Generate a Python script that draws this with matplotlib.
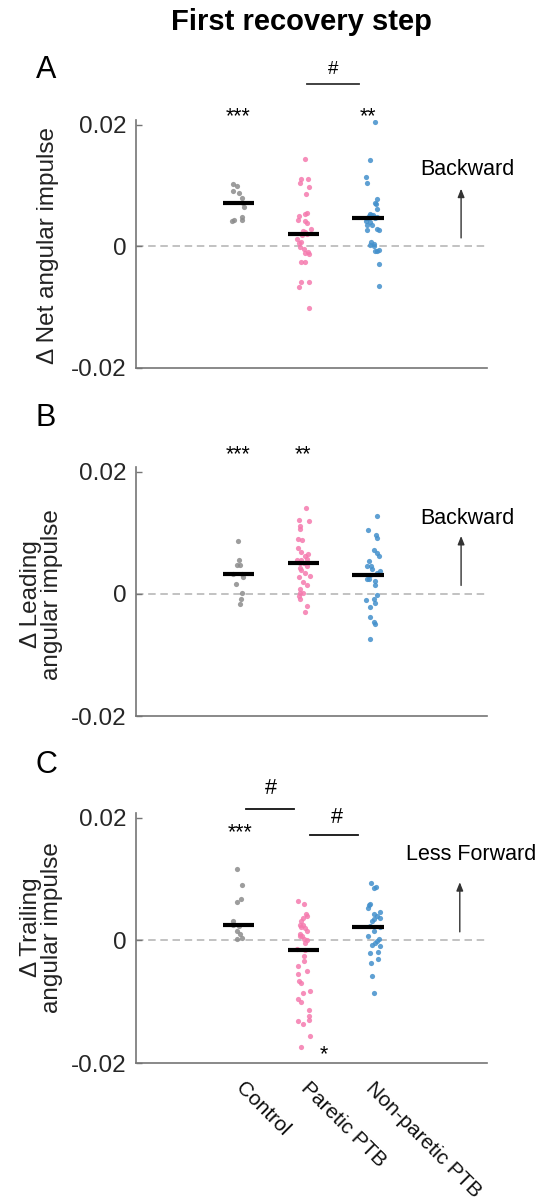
import matplotlib
matplotlib.use("Agg")
import matplotlib.pyplot as plt
import matplotlib.transforms as mtransforms
import numpy as np

plt.rcParams['font.family'] = ['Liberation Sans', 'DejaVu Sans']

# groups and colours
groups = ['Control', 'Paretic PTB', 'Non-paretic PTB']
colors = ['#8c8c8c', '#f57aae', '#4390cc']

# --- A: net angular impulse (value, horizontal jitter) ---
net_ctrl = [0.0103, 0.0099, 0.0091, 0.0088, 0.0080, 0.0071, 0.0065, 0.0048, 0.0044, 0.0044, 0.0042]
net_ctrl_dx = [-0.08, -0.03, -0.09, 0.01, 0.06, 0.07, 0.08, 0.05, 0.06, -0.07, -0.10]
net_par = [0.0144, 0.0111, 0.0111, 0.0104, 0.0097, 0.0086, 0.0055, 0.0053, 0.0050, 0.0043,
           0.0042, 0.0038, 0.0029, 0.0026, 0.0023, 0.0019, 0.0020, 0.0013, 0.0007, 0.0005,
           -0.0001, -0.0004, -0.0010, -0.0011, -0.0012, -0.0025, -0.0026, -0.0058, -0.0059,
           -0.0067, -0.0101]
net_par_dx = [0.03, -0.03, 0.07, -0.05, 0.08, 0.04, 0.05, 0.03, -0.07, -0.08,
              0.03, 0.05, 0.11, 0.00, 0.03, -0.02, 0.05, -0.10, -0.03, -0.07,
              -0.05, 0.01, 0.07, 0.02, 0.09, 0.02, -0.04, 0.08, -0.03,
              -0.07, 0.09]
net_np = [0.0204, 0.0142, 0.0115, 0.0104, 0.0078, 0.0072, 0.0070, 0.0061, 0.0054, 0.0052,
          0.0050, 0.0048, 0.0049, 0.0051, 0.0047, 0.0047, 0.0046, 0.0042, 0.0040, 0.0036,
          0.0036, 0.0029, 0.0027, 0.0027, 0.0008, 0.0004, 0.0003, 0.0000, -0.0006, -0.0007,
          -0.0008, -0.0029, -0.0065]
net_np_dx = [0.10, 0.03, -0.03, -0.02, 0.14, 0.10, 0.12, 0.14, 0.03, 0.07,
             0.01, 0.08, 0.13, 0.04, -0.04, 0.11, 0.00, -0.03, 0.03, 0.06,
             -0.02, 0.14, 0.16, -0.02, 0.04, 0.08, 0.02, 0.08, 0.16, 0.13,
             0.10, 0.16, 0.16]

# --- B: leading limb angular impulse ---
lead_ctrl = [0.0087, 0.0055, 0.0048, 0.0048, 0.0033, 0.0033, 0.0028, 0.0016, 0.0002, -0.0009, -0.0016]
lead_ctrl_dx = [-0.01, 0.01, -0.03, 0.03, -0.08, 0.05, 0.07, -0.04, 0.05, 0.04, 0.02]
lead_par = [0.0141, 0.0122, 0.0119, 0.0112, 0.0106, 0.0090, 0.0089, 0.0075, 0.0069, 0.0066,
            0.0062, 0.0058, 0.0056, 0.0056, 0.0050, 0.0050, 0.0046, 0.0043, 0.0040, 0.0034,
            0.0030, 0.0028, 0.0020, 0.0014, 0.0008, 0.0002, 0.0001, -0.0004, -0.0008, -0.0020,
            -0.0029]
lead_par_dx = [0.04, -0.07, 0.08, -0.05, -0.05, -0.09, -0.02, -0.09, -0.04, 0.07,
               0.03, 0.05, -0.10, -0.03, 0.01, -0.05, 0.05, -0.06, -0.03, 0.03,
               0.10, -0.07, 0.00, 0.06, -0.05, -0.06, -0.01, -0.07, -0.05, 0.06,
               0.02]
lead_np = [0.0128, 0.0104, 0.0097, 0.0092, 0.0072, 0.0067, 0.0062, 0.0054, 0.0046, 0.0046,
           0.0041, 0.0038, 0.0034, 0.0031, 0.0025, 0.0024, 0.0022, 0.0015, -0.0001, -0.0008,
           -0.0010, -0.0014, -0.0022, -0.0037, -0.0046, -0.0049, -0.0073]
lead_np_dx = [0.13, -0.01, 0.12, 0.13, 0.08, 0.13, 0.16, 0.01, 0.04, -0.02,
              0.06, 0.18, 0.13, 0.03, -0.02, 0.01, 0.10, 0.11, 0.13, 0.08,
              -0.03, 0.10, 0.03, 0.02, 0.09, 0.10, 0.03]

# --- C: trailing limb angular impulse ---
trail_ctrl = [0.0117, 0.0091, 0.0067, 0.0062, 0.0031, 0.0025, 0.0024, 0.0016, 0.0010, 0.0004, 0.0003]
trail_ctrl_dx = [-0.02, 0.06, 0.04, -0.03, -0.08, -0.08, 0.01, -0.02, 0.02, 0.06, -0.03]
trail_par = [0.0064, 0.0059, 0.0043, 0.0040, 0.0037, 0.0032, 0.0025, 0.0025, 0.0022, 0.0021,
             0.0015, 0.0010, 0.0007, 0.0007, 0.0002, 0.0001, -0.0004, -0.0014, -0.0016, -0.0026,
             -0.0033, -0.0041, -0.0050, -0.0055, -0.0067, -0.0069, -0.0083, -0.0085, -0.0096,
             -0.0100, -0.0114, -0.0123, -0.0130, -0.0132, -0.0137, -0.0156, -0.0174]
trail_par_dx = [-0.08, 0.01, 0.04, 0.06, -0.01, -0.03, -0.05, 0.00, -0.04, 0.02,
                0.05, -0.05, -0.06, -0.02, 0.01, 0.06, 0.03, -0.10, 0.02, 0.01,
                0.01, -0.08, 0.06, -0.09, -0.07, -0.04, 0.10, 0.00, -0.08,
                -0.03, 0.09, 0.08, 0.08, -0.09, -0.01, 0.10, -0.03]
trail_np = [0.0094, 0.0087, 0.0085, 0.0059, 0.0057, 0.0053, 0.0046, 0.0043, 0.0040, 0.0037,
            0.0035, 0.0032, 0.0024, 0.0022, 0.0015, 0.0007, 0.0003, -0.0001, -0.0004, -0.0007,
            -0.0009, -0.0019, -0.0020, -0.0031, -0.0037, -0.0058, -0.0086]
trail_np_dx = [0.04, 0.12, 0.08, 0.03, 0.01, 0.00, 0.18, 0.08, 0.13, 0.18,
               0.09, 0.06, 0.03, 0.18, 0.08, 0.00, 0.17, 0.13, 0.11, 0.06,
               0.18, 0.15, 0.03, 0.15, 0.04, 0.05, 0.08]

panels = [
    ('A', '\u0394 Net angular impulse',
     [(net_ctrl, net_ctrl_dx), (net_par, net_par_dx), (net_np, net_np_dx)]),
    ('B', '\u0394 Leading\nangular impulse',
     [(lead_ctrl, lead_ctrl_dx), (lead_par, lead_par_dx), (lead_np, lead_np_dx)]),
    ('C', '\u0394 Trailing\nangular impulse',
     [(trail_ctrl, trail_ctrl_dx), (trail_par, trail_par_dx), (trail_np, trail_np_dx)]),
]

# axes rectangles in figure fractions (left, bottom, width, height)
rects = [(0.251, 0.6944, 0.6476, 0.2059),
         (0.251, 0.4053, 0.6476, 0.2068),
         (0.251, 0.1171, 0.6476, 0.2077)]
ylab_pos = [(0.089, 0.7960), (0.077, 0.5065), (0.077, 0.2300)]
letter_y = [0.9419, 0.6530, 0.3650]

FS = 15.5      # annotation text
FS_AX = 17.5   # tick labels and axis labels
fig = plt.figure(figsize=(5.42, 12.04), dpi=100)
fig.text(0.556, 0.9815, 'First recovery step', ha='center', va='center',
         fontsize=21, fontweight='bold')

axes = []
for k, (letter, ylab, data) in enumerate(panels):
    ax = fig.add_axes(rects[k])
    axes.append(ax)
    ax.set_xlim(-0.58, 4.83)
    ax.set_ylim(-0.02, 0.0208)
    ax.axhline(0, color='#b8b8b8', lw=1.2, ls=(0, (4.5, 2.8)), zorder=0)
    for i, (vals, dx) in enumerate(data):
        vals = np.array(vals)
        xs = i + 1 + np.array(dx)
        ax.scatter(xs, vals, s=14, color=colors[i], alpha=0.85, lw=0, zorder=2)
        med = np.median(vals)
        ax.plot([i + 1 - 0.245, i + 1 + 0.245], [med, med], color='black',
                lw=3.0, solid_capstyle='butt', zorder=3)

    for s in ['top', 'right']:
        ax.spines[s].set_visible(False)
    for s in ['left', 'bottom']:
        ax.spines[s].set_color('#757575')
        ax.spines[s].set_linewidth(1.2)
    ax.set_yticks([-0.02, 0, 0.02])
    ax.set_yticklabels(['-0.02', '0', '0.02'])
    ax.tick_params(axis='y', direction='in', length=4, width=1, color='#757575',
                   labelsize=FS_AX, labelcolor='#262626', pad=7)
    ax.set_xticks([1, 2, 3])
    if k < 2:
        ax.set_xticklabels([])
    else:
        ax.set_xticklabels(groups, rotation=-45, rotation_mode='anchor',
                           ha='left', va='center', fontsize=15, color='#111111')
        shift = mtransforms.ScaledTranslation(2 / 100, 0, fig.dpi_scale_trans)
        for t in ax.get_xticklabels():
            t.set_transform(t.get_transform() + shift)
    ax.tick_params(axis='x', length=0, pad=16)

    fig.text(ylab_pos[k][0], ylab_pos[k][1], ylab, rotation=90, ha='center',
             va='center', fontsize=FS_AX, multialignment='center', color='#222222',
             linespacing=0.92)
    fig.text(0.066, letter_y[k], letter, ha='left', va='center', fontsize=22)

axA, axB, axC = axes

# significance markers
axA.text(1, 0.0213, '***', ha='center', va='center', fontsize=FS)
axA.text(3, 0.0213, '**', ha='center', va='center', fontsize=FS)
axA.plot([2.05, 2.86], [0.0268, 0.0268], color='#333333', lw=1.3, clip_on=False)
axA.text(2.46, 0.0291, '#', ha='center', va='center', fontsize=FS - 2)

axB.text(1, 0.0228, '***', ha='center', va='center', fontsize=FS)
axB.text(2, 0.0228, '**', ha='center', va='center', fontsize=FS)

axC.text(1.02, 0.0176, '***', ha='center', va='center', fontsize=FS)
axC.text(2.32, -0.0186, '*', ha='center', va='center', fontsize=FS)
axC.plot([1.12, 1.85], [0.0215, 0.0215], color='#111111', lw=1.3, clip_on=False)
axC.text(1.50, 0.0248, '#', ha='center', va='center', fontsize=FS)
axC.plot([2.10, 2.84], [0.0172, 0.0172], color='#111111', lw=1.3, clip_on=False)
axC.text(2.51, 0.0200, '#', ha='center', va='center', fontsize=FS)

# direction arrows
arrow = dict(arrowstyle='-|>,head_length=0.5,head_width=0.2', lw=1.0,
             color='#333333', mutation_scale=10, shrinkA=0, shrinkB=0)
for ax, label, xa, xt, yt in [(axA, 'Backward', 4.43, 4.52, 0.0126),
                              (axB, 'Backward', 4.43, 4.52, 0.0123),
                              (axC, 'Less Forward', 4.41, 4.59, 0.0140)]:
    ax.annotate('', xy=(xa, 0.0095), xytext=(xa, 0.0014), arrowprops=arrow)
    ax.text(xt, yt, label, ha='center', va='center', fontsize=FS, clip_on=False)

fig.savefig('out.png', dpi=100)
